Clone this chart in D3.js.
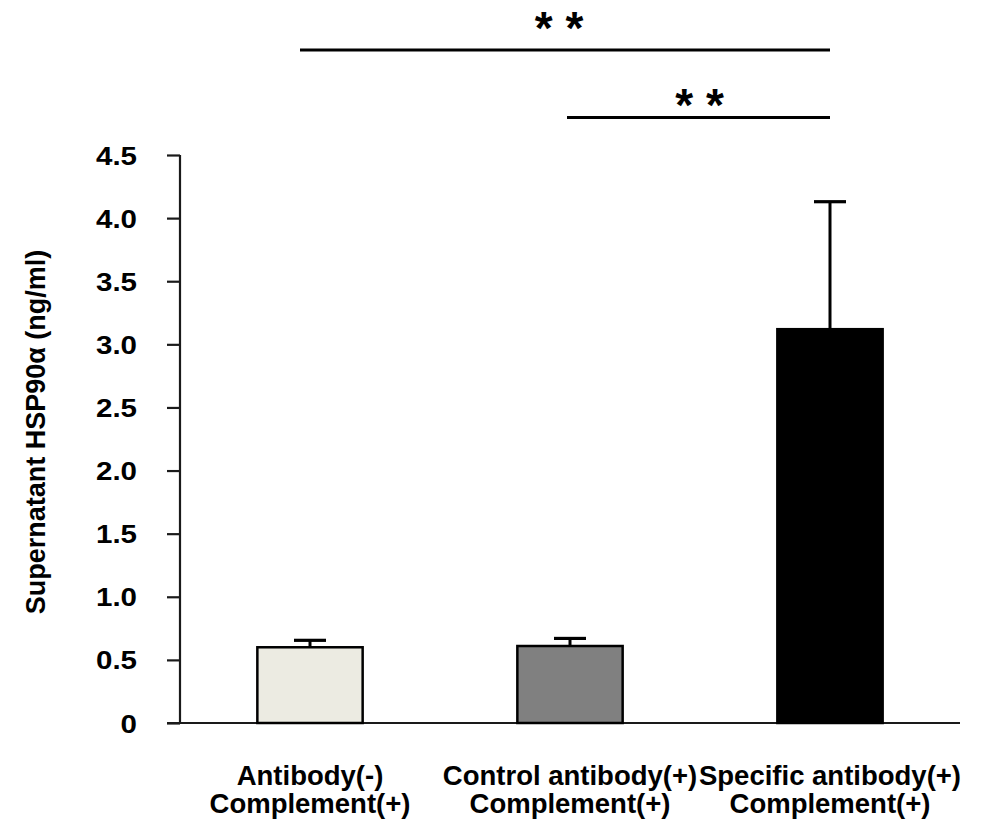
<!DOCTYPE html>
<html>
<head>
<meta charset="utf-8">
<script src="https://cdn.jsdelivr.net/npm/d3@7"></script>
<style>
  html, body { margin: 0; padding: 0; background: #fff; }
  svg { display: block; }
  text { font-family: "Liberation Sans", Arial, sans-serif; font-weight: bold; fill: #000; }
</style>
</head>
<body>
<div id="chart"></div>
<script>
// ---- data ----
const categories = ["Antibody(-)|Complement(+)", "Control antibody(+)|Complement(+)", "Specific antibody(+)|Complement(+)"];
const values = [0.60, 0.61, 3.12];
const errors = [0.055, 0.06, 1.01];
const fills = ["#ecebe2", "#808080", "#000000"];
const yTicks = [0, 0.5, 1.0, 1.5, 2.0, 2.5, 3.0, 3.5, 4.0, 4.5];
const yTickLabels = ["0", "0.5", "1.0", "1.5", "2.0", "2.5", "3.0", "3.5", "4.0", "4.5"];
const yTitle = "Supernatant HSP90α (ng/ml)";
const sigFrom = [0, 1];
const sigTo = [2, 2];
const sigLabels = ["* *", "* *"];

// ---- layout ----
const W = 992, H = 824;
const plot = { left: 180, right: 960, top: 155, bottom: 723 };

const svg = d3.select("#chart").append("svg").attr("width", W).attr("height", H);

const x = d3.scaleBand().domain(categories).range([plot.left, plot.right]).padding(0);
const y = d3.scaleLinear().domain([0, 4.5]).range([plot.bottom, plot.top]);
const barW = x.bandwidth() * 0.405;
const cx = c => x(c) + x.bandwidth() / 2;

// y axis
const yAxis = d3.axisLeft(y).tickValues(yTicks).tickFormat((d, i) => yTickLabels[i]).tickSize(13).tickPadding(30);
const gy = svg.append("g").attr("transform", `translate(${plot.left},0)`).call(yAxis);
gy.select(".domain").attr("stroke", "#1a1a1a").attr("stroke-width", 2.2).attr("d", `M0,${plot.top}V${plot.bottom}`);
gy.selectAll(".tick line").attr("stroke", "#1a1a1a").attr("stroke-width", 2.2);
gy.selectAll(".tick text")
  .attr("x", 0)
  .attr("dy", "0.36em")
  .attr("text-anchor", "end")
  .attr("transform", "translate(-43,0) scale(1.18,1)")
  .style("font-size", "25px")
  .style("font-family", "'Liberation Sans', Arial, sans-serif")
  .style("font-weight", "bold")
  .attr("fill", "#000");

// x axis baseline
svg.append("line")
  .attr("x1", plot.left - 13).attr("x2", plot.right)
  .attr("y1", y(0)).attr("y2", y(0))
  .attr("stroke", "#1a1a1a").attr("stroke-width", 2.2);

// y title
svg.append("text")
  .attr("transform", `translate(45,${(plot.top + plot.bottom) / 2 - 7}) rotate(-90)`)
  .attr("text-anchor", "middle")
  .style("font-size", "27px")
  .text(yTitle);

// error bars (behind bars)
const eb = svg.append("g");
categories.forEach((c, i) => {
  eb.append("line")
    .attr("x1", cx(c)).attr("x2", cx(c))
    .attr("y1", y(values[i])).attr("y2", y(values[i] + errors[i]))
    .attr("stroke", "#000").attr("stroke-width", 3);
  eb.append("line")
    .attr("x1", cx(c) - 16).attr("x2", cx(c) + 16)
    .attr("y1", y(values[i] + errors[i])).attr("y2", y(values[i] + errors[i]))
    .attr("stroke", "#000").attr("stroke-width", 3.2);
});

// bars
svg.append("g").selectAll("rect").data(categories).join("rect")
  .attr("x", c => cx(c) - barW / 2)
  .attr("width", barW)
  .attr("y", (c, i) => y(values[i]))
  .attr("height", (c, i) => y(0) - y(values[i]))
  .attr("fill", (c, i) => fills[i])
  .attr("stroke", "#000")
  .attr("stroke-width", 2.5);

// x labels
categories.forEach((c, i) => {
  const lines = c.split("|");
  const t = svg.append("text")
    .attr("x", cx(c)).attr("text-anchor", "middle")
    .style("font-size", "27.5px");
  lines.forEach((ln, j) => {
    t.append("tspan").attr("x", cx(c)).attr("y", 785 + j * 28).text(ln);
  });
});

// significance brackets
const sigLineY = [50, 117.5];
const sigStarY = [44, 121];
sigFrom.forEach((f, k) => {
  const x1 = cx(categories[f]) - (k === 0 ? 10 : 3);
  const x2 = cx(categories[sigTo[k]]);
  svg.append("line")
    .attr("x1", x1).attr("x2", x2)
    .attr("y1", sigLineY[k]).attr("y2", sigLineY[k])
    .attr("stroke", "#000").attr("stroke-width", 3.2);
  svg.append("text")
    .attr("x", (x1 + x2) / 2 - (k === 0 ? 7 : 0) + 1)
    .attr("y", sigStarY[k])
    .attr("text-anchor", "middle")
    .style("font-size", "46px")
    .text(sigLabels[k]);
});
</script>
</body>
</html>
